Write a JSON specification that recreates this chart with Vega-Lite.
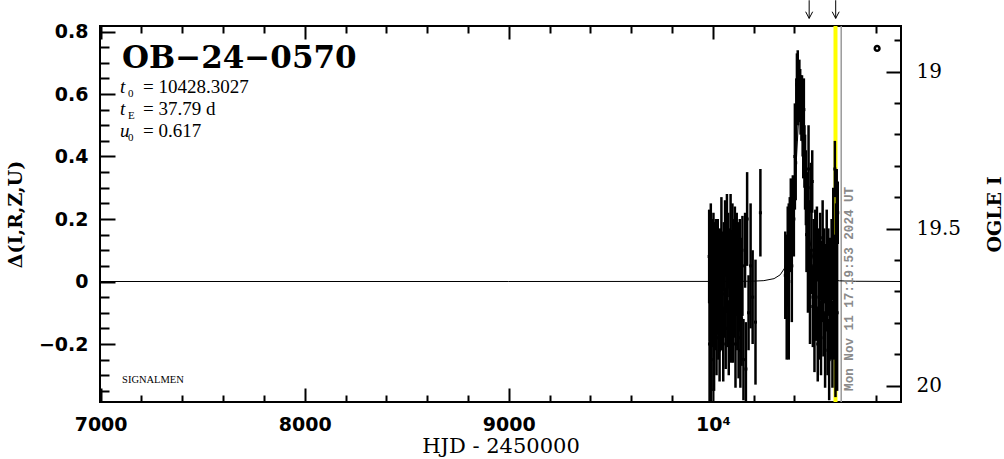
{
  "$schema": "https://vega.github.io/schema/vega-lite/v6.json",
  "width": 801,
  "height": 376,
  "autosize": {"type": "none"},
  "padding": {"left": 100, "top": 26, "right": 103, "bottom": 57},
  "background": "white",
  "config": {
    "view": {"stroke": "black", "strokeWidth": 2},
    "axis": {"grid": false, "domain": false, "labelFlush": false, "labelOverlap": false}
  },
  "resolve": {"scale": {"y": "independent"}, "axis": {"x": "independent", "y": "independent"}},
  "datasets": {
    "model": [
      {"t": 6997, "d": 0}, {"t": 9000, "d": 0}, {"t": 10100, "d": 0.0003}, {"t": 10200, "d": 0.0012},
      {"t": 10250, "d": 0.0028}, {"t": 10300, "d": 0.0091}, {"t": 10330, "d": 0.0214}, {"t": 10350, "d": 0.0412},
      {"t": 10370, "d": 0.0858}, {"t": 10380, "d": 0.1258}, {"t": 10390, "d": 0.188}, {"t": 10400, "d": 0.2773},
      {"t": 10410, "d": 0.397}, {"t": 10420, "d": 0.517}, {"t": 10428.3, "d": 0.56}, {"t": 10437, "d": 0.513},
      {"t": 10445, "d": 0.418}, {"t": 10455, "d": 0.2948}, {"t": 10465, "d": 0.1995}, {"t": 10475, "d": 0.134},
      {"t": 10490, "d": 0.0749}, {"t": 10520, "d": 0.0263}, {"t": 10560, "d": 0.0082}, {"t": 10620, "d": 0.0022},
      {"t": 10700, "d": 0.0007}, {"t": 10922, "d": 0}
    ],
    "obs": [
      {"t": 9982, "d": 0.08, "e": 0.15}, {"t": 9984, "d": -0.2, "e": 0.22}, {"t": 9986, "d": -0.05, "e": 0.14},
      {"t": 9990, "d": 0.12, "e": 0.13}, {"t": 9992, "d": -0.25, "e": 0.2}, {"t": 9994, "d": -0.15, "e": 0.2},
      {"t": 9997, "d": 0.02, "e": 0.18}, {"t": 10000, "d": -0.08, "e": 0.13}, {"t": 10003, "d": 0.1, "e": 0.12},
      {"t": 10006, "d": -0.2, "e": 0.15}, {"t": 10009, "d": 0.05, "e": 0.14}, {"t": 10012, "d": -0.1, "e": 0.12},
      {"t": 10015, "d": 0.07, "e": 0.13}, {"t": 10018, "d": -0.18, "e": 0.12}, {"t": 10021, "d": -0.02, "e": 0.15},
      {"t": 10024, "d": 0.1, "e": 0.1}, {"t": 10027, "d": -0.12, "e": 0.13}, {"t": 10030, "d": 0.0, "e": 0.14},
      {"t": 10033, "d": -0.22, "e": 0.1}, {"t": 10036, "d": 0.05, "e": 0.12}, {"t": 10039, "d": -0.06, "e": 0.16},
      {"t": 10042, "d": 0.15, "e": 0.12}, {"t": 10045, "d": -0.1, "e": 0.12}, {"t": 10048, "d": 0.03, "e": 0.13},
      {"t": 10051, "d": -0.2, "e": 0.12}, {"t": 10054, "d": 0.08, "e": 0.11}, {"t": 10057, "d": -0.04, "e": 0.14},
      {"t": 10060, "d": 0.14, "e": 0.12}, {"t": 10063, "d": -0.15, "e": 0.13}, {"t": 10066, "d": 0.02, "e": 0.12},
      {"t": 10069, "d": 0.18, "e": 0.1}, {"t": 10072, "d": -0.08, "e": 0.13}, {"t": 10075, "d": 0.1, "e": 0.12},
      {"t": 10078, "d": -0.18, "e": 0.12}, {"t": 10081, "d": 0.06, "e": 0.11}, {"t": 10084, "d": -0.02, "e": 0.13},
      {"t": 10087, "d": 0.16, "e": 0.12}, {"t": 10090, "d": -0.12, "e": 0.14}, {"t": 10093, "d": 0.04, "e": 0.12},
      {"t": 10096, "d": 0.12, "e": 0.13}, {"t": 10099, "d": -0.14, "e": 0.12}, {"t": 10102, "d": 0.08, "e": 0.12},
      {"t": 10105, "d": -0.05, "e": 0.13}, {"t": 10108, "d": 0.13, "e": 0.11}, {"t": 10111, "d": -0.2, "e": 0.14},
      {"t": 10114, "d": 0.02, "e": 0.13}, {"t": 10117, "d": 0.1, "e": 0.12}, {"t": 10120, "d": -0.1, "e": 0.12},
      {"t": 10123, "d": 0.05, "e": 0.14}, {"t": 10126, "d": -0.18, "e": 0.13}, {"t": 10129, "d": -0.02, "e": 0.14},
      {"t": 10132, "d": 0.08, "e": 0.12}, {"t": 10135, "d": -0.22, "e": 0.12}, {"t": 10138, "d": 0.0, "e": 0.14},
      {"t": 10141, "d": -0.12, "e": 0.15}, {"t": 10145, "d": 0.05, "e": 0.16}, {"t": 10150, "d": -0.25, "e": 0.13},
      {"t": 10158, "d": 0.1, "e": 0.12}, {"t": 10162, "d": -0.28, "e": 0.15}, {"t": 10168, "d": 0.2, "e": 0.15},
      {"t": 10175, "d": -0.1, "e": 0.12}, {"t": 10185, "d": 0.05, "e": 0.2}, {"t": 10195, "d": -0.05, "e": 0.15},
      {"t": 10209, "d": -0.13, "e": 0.2}, {"t": 10233, "d": 0.22, "e": 0.14},
      {"t": 10355, "d": 0.02, "e": 0.14}, {"t": 10362, "d": -0.05, "e": 0.2}, {"t": 10367, "d": 0.08, "e": 0.16},
      {"t": 10372, "d": 0.0, "e": 0.25}, {"t": 10377, "d": 0.15, "e": 0.12}, {"t": 10382, "d": 0.26, "e": 0.07},
      {"t": 10387, "d": 0.05, "e": 0.18}, {"t": 10392, "d": 0.28, "e": 0.06}, {"t": 10397, "d": 0.2, "e": 0.12},
      {"t": 10402, "d": 0.4, "e": 0.17}, {"t": 10406, "d": 0.38, "e": 0.12},
      {"t": 10409, "d": 0.55, "e": 0.1}, {"t": 10412, "d": 0.63, "e": 0.1}, {"t": 10414, "d": 0.6, "e": 0.06},
      {"t": 10416, "d": 0.68, "e": 0.06}, {"t": 10418, "d": 0.57, "e": 0.07}, {"t": 10420, "d": 0.64, "e": 0.05},
      {"t": 10422, "d": 0.6, "e": 0.06}, {"t": 10424, "d": 0.66, "e": 0.05}, {"t": 10426, "d": 0.58, "e": 0.07},
      {"t": 10428, "d": 0.62, "e": 0.06}, {"t": 10430, "d": 0.55, "e": 0.08}, {"t": 10432, "d": 0.6, "e": 0.06},
      {"t": 10434, "d": 0.52, "e": 0.07}, {"t": 10437, "d": 0.58, "e": 0.08}, {"t": 10440, "d": 0.5, "e": 0.1},
      {"t": 10443, "d": 0.45, "e": 0.12}, {"t": 10446, "d": 0.55, "e": 0.1}, {"t": 10449, "d": 0.4, "e": 0.1},
      {"t": 10452, "d": 0.35, "e": 0.12},
      {"t": 10456, "d": 0.3, "e": 0.12}, {"t": 10459, "d": 0.15, "e": 0.12}, {"t": 10462, "d": 0.25, "e": 0.1},
      {"t": 10466, "d": 0.05, "e": 0.15}, {"t": 10469, "d": 0.36, "e": 0.14}, {"t": 10472, "d": 0.12, "e": 0.14},
      {"t": 10476, "d": -0.05, "e": 0.15}, {"t": 10480, "d": 0.3, "e": 0.08}, {"t": 10483, "d": 0.1, "e": 0.14},
      {"t": 10487, "d": 0.32, "e": 0.1}, {"t": 10490, "d": -0.08, "e": 0.13}, {"t": 10494, "d": 0.05, "e": 0.15},
      {"t": 10498, "d": -0.15, "e": 0.14}, {"t": 10502, "d": 0.1, "e": 0.13}, {"t": 10506, "d": -0.05, "e": 0.14},
      {"t": 10510, "d": 0.12, "e": 0.12}, {"t": 10514, "d": -0.2, "e": 0.12}, {"t": 10518, "d": 0.02, "e": 0.15},
      {"t": 10522, "d": -0.12, "e": 0.13}, {"t": 10526, "d": 0.08, "e": 0.14}, {"t": 10530, "d": -0.18, "e": 0.12},
      {"t": 10534, "d": 0.0, "e": 0.13}, {"t": 10538, "d": 0.14, "e": 0.12}, {"t": 10542, "d": -0.1, "e": 0.14},
      {"t": 10546, "d": 0.05, "e": 0.12}, {"t": 10550, "d": -0.22, "e": 0.12}, {"t": 10554, "d": -0.02, "e": 0.14},
      {"t": 10558, "d": 0.1, "e": 0.13}, {"t": 10562, "d": -0.15, "e": 0.15}, {"t": 10566, "d": 0.03, "e": 0.14},
      {"t": 10570, "d": -0.25, "e": 0.13}, {"t": 10574, "d": 0.0, "e": 0.14}, {"t": 10578, "d": -0.1, "e": 0.15},
      {"t": 10582, "d": 0.08, "e": 0.12}, {"t": 10586, "d": -0.2, "e": 0.14}, {"t": 10590, "d": 0.12, "e": 0.18},
      {"t": 10594, "d": -0.05, "e": 0.2}, {"t": 10598, "d": 0.36, "e": 0.09}, {"t": 10601, "d": -0.15, "e": 0.22},
      {"t": 10604, "d": 0.05, "e": 0.2}, {"t": 10607, "d": 0.28, "e": 0.08}, {"t": 10609, "d": -0.1, "e": 0.25},
      {"t": 10612, "d": 0.22, "e": 0.1}
    ],
    "vyellow": [{"t": 10601}],
    "vgrey": [{"t": 10629}],
    "arrows": [{"t": 10472, "top": 0.9, "tip": 0.842}, {"t": 10602, "top": 0.9, "tip": 0.842}],
    "marker": [{"t": 10805, "d": 0.746}],
    "title": [{"t": 7105, "d": 0.683, "txt": "OB−24−0570"}],
    "params": [
      {"t": 7095, "d": 0.603, "sym": "t", "sub": "0", "rest": "= 10428.3027"},
      {"t": 7095, "d": 0.533, "sym": "t", "sub": "E", "rest": "= 37.79 d"},
      {"t": 7095, "d": 0.462, "sym": "u", "sub": "0", "rest": "= 0.617"}
    ],
    "sig": [{"t": 7105, "d": -0.325, "txt": "SIGNALMEN"}],
    "stamp": [{"t": 10669, "d": -0.35, "txt": "Mon Nov 11 17:19:53 2024 UT"}],
    "ax": [{"t": 8000, "d": 0, "m": 19.5}]
  },
  "layer": [
    {
      "data": {"name": "vyellow"},
      "mark": {"type": "rule", "color": "#ffff00", "strokeWidth": 4},
      "encoding": {"x": {"field": "t", "type": "quantitative", "scale": {"domain": [6997, 10922], "nice": false, "zero": false}, "axis": null}}
    },
    {
      "data": {"name": "vgrey"},
      "mark": {"type": "rule", "color": "#9a9a9a", "strokeWidth": 1.5},
      "encoding": {"x": {"field": "t", "type": "quantitative", "scale": {"domain": [6997, 10922], "nice": false, "zero": false}, "axis": null}}
    },
    {
      "data": {"name": "model"},
      "mark": {"type": "line", "color": "black", "strokeWidth": 1, "clip": true},
      "encoding": {
        "x": {"field": "t", "type": "quantitative", "scale": {"domain": [6997, 10922], "nice": false, "zero": false},
          "axis": {"orient": "bottom", "values": [7000, 8000, 9000, 10000], "ticks": false, "domain": false, "grid": false,
            "labelExpr": "datum.value == 10000 ? '10⁴' : format(datum.value, 'd')",
            "labelFont": "DejaVu Sans", "labelFontWeight": "bold", "labelFontSize": 19, "labelColor": "black", "labelPadding": 13,
            "title": "HJD - 2450000", "titleFont": "DejaVu Serif", "titleFontSize": 21, "titleFontWeight": "normal", "titleColor": "black", "titlePadding": 1}},
        "y": {"field": "d", "type": "quantitative", "scale": {"domain": [-0.3856, 0.8176], "nice": false, "zero": false},
          "axis": {"orient": "left", "values": [-0.2, 0, 0.2, 0.4, 0.6, 0.8], "ticks": false, "domain": false, "grid": false, "format": "~g",
            "labelFont": "DejaVu Sans", "labelFontWeight": "bold", "labelFontSize": 19, "labelColor": "black", "labelPadding": 12,
            "title": "Δ(I,R,Z,U)", "titleFont": "DejaVu Serif", "titleFontSize": 19, "titleFontWeight": "bold", "titleColor": "black", "titlePadding": 13}}
      }
    },
    {
      "data": {"name": "obs"},
      "mark": {"type": "errorbar", "color": "black", "thickness": 2.5, "clip": true},
      "encoding": {
        "x": {"field": "t", "type": "quantitative", "scale": {"domain": [6997, 10922], "nice": false, "zero": false}, "axis": null},
        "y": {"field": "d", "type": "quantitative", "scale": {"domain": [-0.3856, 0.8176], "nice": false, "zero": false}, "axis": null},
        "yError": {"field": "e"}
      }
    },
    {
      "data": {"name": "obs"},
      "mark": {"type": "square", "color": "black", "filled": true, "size": 9, "opacity": 1, "clip": true},
      "encoding": {
        "x": {"field": "t", "type": "quantitative", "scale": {"domain": [6997, 10922], "nice": false, "zero": false}, "axis": null},
        "y": {"field": "d", "type": "quantitative", "scale": {"domain": [-0.3856, 0.8176], "nice": false, "zero": false}, "axis": null}
      }
    },
    {
      "data": {"name": "arrows"},
      "mark": {"type": "rule", "color": "black", "strokeWidth": 1, "clip": false},
      "encoding": {
        "x": {"field": "t", "type": "quantitative", "scale": {"domain": [6997, 10922], "nice": false, "zero": false}, "axis": null},
        "y": {"field": "top", "type": "quantitative", "scale": {"domain": [-0.3856, 0.8176], "nice": false, "zero": false}, "axis": null},
        "y2": {"field": "tip"}
      }
    },
    {
      "data": {"name": "arrows"},
      "mark": {"type": "point", "shape": "M-1,-1.9L0,0L1,-1.9", "filled": false, "stroke": "black", "strokeWidth": 1, "size": 49, "opacity": 1, "clip": false},
      "encoding": {
        "x": {"field": "t", "type": "quantitative", "scale": {"domain": [6997, 10922], "nice": false, "zero": false}, "axis": null},
        "y": {"field": "tip", "type": "quantitative", "scale": {"domain": [-0.3856, 0.8176], "nice": false, "zero": false}, "axis": null}
      }
    },
    {
      "data": {"name": "marker"},
      "mark": {"type": "point", "shape": "circle", "filled": false, "stroke": "black", "strokeWidth": 2.5, "size": 22, "opacity": 1},
      "encoding": {
        "x": {"field": "t", "type": "quantitative", "scale": {"domain": [6997, 10922], "nice": false, "zero": false}, "axis": null},
        "y": {"field": "d", "type": "quantitative", "scale": {"domain": [-0.3856, 0.8176], "nice": false, "zero": false}, "axis": null}
      }
    },
    {
      "data": {"name": "title"},
      "mark": {"type": "text", "align": "left", "baseline": "alphabetic", "font": "DejaVu Serif", "fontSize": 31, "fontWeight": "bold", "color": "black"},
      "encoding": {
        "x": {"field": "t", "type": "quantitative", "scale": {"domain": [6997, 10922], "nice": false, "zero": false}, "axis": null},
        "y": {"field": "d", "type": "quantitative", "scale": {"domain": [-0.3856, 0.8176], "nice": false, "zero": false}, "axis": null},
        "text": {"field": "txt"}
      }
    },
    {
      "data": {"name": "params"},
      "mark": {"type": "text", "align": "left", "baseline": "alphabetic", "font": "Liberation Serif", "fontSize": 19, "fontStyle": "italic", "color": "black"},
      "encoding": {
        "x": {"field": "t", "type": "quantitative", "scale": {"domain": [6997, 10922], "nice": false, "zero": false}, "axis": null},
        "y": {"field": "d", "type": "quantitative", "scale": {"domain": [-0.3856, 0.8176], "nice": false, "zero": false}, "axis": null},
        "text": {"field": "sym"}
      }
    },
    {
      "data": {"name": "params"},
      "mark": {"type": "text", "align": "left", "baseline": "alphabetic", "font": "Liberation Serif", "fontSize": 11, "dx": 8, "dy": 4, "color": "black"},
      "encoding": {
        "x": {"field": "t", "type": "quantitative", "scale": {"domain": [6997, 10922], "nice": false, "zero": false}, "axis": null},
        "y": {"field": "d", "type": "quantitative", "scale": {"domain": [-0.3856, 0.8176], "nice": false, "zero": false}, "axis": null},
        "text": {"field": "sub"}
      }
    },
    {
      "data": {"name": "params"},
      "mark": {"type": "text", "align": "left", "baseline": "alphabetic", "font": "Liberation Serif", "fontSize": 19, "dx": 23, "color": "black"},
      "encoding": {
        "x": {"field": "t", "type": "quantitative", "scale": {"domain": [6997, 10922], "nice": false, "zero": false}, "axis": null},
        "y": {"field": "d", "type": "quantitative", "scale": {"domain": [-0.3856, 0.8176], "nice": false, "zero": false}, "axis": null},
        "text": {"field": "rest"}
      }
    },
    {
      "data": {"name": "sig"},
      "mark": {"type": "text", "align": "left", "baseline": "alphabetic", "font": "Liberation Serif", "fontSize": 10.5, "color": "black"},
      "encoding": {
        "x": {"field": "t", "type": "quantitative", "scale": {"domain": [6997, 10922], "nice": false, "zero": false}, "axis": null},
        "y": {"field": "d", "type": "quantitative", "scale": {"domain": [-0.3856, 0.8176], "nice": false, "zero": false}, "axis": null},
        "text": {"field": "txt"}
      }
    },
    {
      "data": {"name": "stamp"},
      "mark": {"type": "text", "align": "left", "baseline": "middle", "angle": 270, "font": "Liberation Mono", "fontSize": 12.6, "fontWeight": "bold", "color": "#8a8a8a"},
      "encoding": {
        "x": {"field": "t", "type": "quantitative", "scale": {"domain": [6997, 10922], "nice": false, "zero": false}, "axis": null},
        "y": {"field": "d", "type": "quantitative", "scale": {"domain": [-0.3856, 0.8176], "nice": false, "zero": false}, "axis": null},
        "text": {"field": "txt"}
      }
    },
    {
      "data": {"name": "ax"},
      "mark": {"type": "point", "opacity": 0},
      "encoding": {
        "x": {"field": "t", "type": "quantitative", "scale": {"domain": [6997, 10922], "nice": false, "zero": false},
          "axis": {"orient": "bottom", "values": [7000, 8000, 9000, 10000], "labels": false, "ticks": true, "tickSize": -14, "tickWidth": 2, "tickColor": "black", "domain": false, "grid": false, "title": null}},
        "y": {"field": "d", "type": "quantitative", "scale": {"domain": [-0.3856, 0.8176], "nice": false, "zero": false},
          "axis": {"orient": "left", "values": [-0.2, 0, 0.2, 0.4, 0.6, 0.8], "labels": false, "ticks": true, "tickSize": -15, "tickWidth": 2, "tickColor": "black", "domain": false, "grid": false, "title": null}}
      }
    },
    {
      "data": {"name": "ax"},
      "mark": {"type": "point", "opacity": 0},
      "encoding": {
        "x": {"field": "t", "type": "quantitative", "scale": {"domain": [6997, 10922], "nice": false, "zero": false},
          "axis": {"orient": "bottom", "values": [7200, 7400, 7600, 7800, 8200, 8400, 8600, 8800, 9200, 9400, 9600, 9800, 10200, 10400, 10600, 10800], "labels": false, "ticks": true, "tickSize": -7, "tickWidth": 2, "tickColor": "black", "domain": false, "grid": false, "title": null}},
        "y": {"field": "d", "type": "quantitative", "scale": {"domain": [-0.3856, 0.8176], "nice": false, "zero": false},
          "axis": {"orient": "left", "values": [-0.35, -0.3, -0.25, -0.15, -0.1, -0.05, 0.05, 0.1, 0.15, 0.25, 0.3, 0.35, 0.45, 0.5, 0.55, 0.65, 0.7, 0.75], "labels": false, "ticks": true, "tickSize": -9, "tickWidth": 2, "tickColor": "black", "domain": false, "grid": false, "title": null}}
      }
    },
    {
      "data": {"name": "ax"},
      "mark": {"type": "point", "opacity": 0},
      "encoding": {
        "x": {"field": "t", "type": "quantitative", "scale": {"domain": [6997, 10922], "nice": false, "zero": false},
          "axis": {"orient": "top", "values": [7000, 8000, 9000, 10000], "labels": false, "ticks": true, "tickSize": -13, "tickWidth": 2, "tickColor": "black", "domain": false, "grid": false, "title": null}},
        "y": {"field": "m", "type": "quantitative", "scale": {"domain": [18.8545, 20.0519], "reverse": true, "nice": false, "zero": false},
          "axis": {"orient": "right", "values": [19, 19.5, 20], "labels": false, "ticks": true, "tickSize": -15, "tickWidth": 2, "tickColor": "black", "domain": false, "grid": false, "title": null}}
      }
    },
    {
      "data": {"name": "ax"},
      "mark": {"type": "point", "opacity": 0},
      "encoding": {
        "x": {"field": "t", "type": "quantitative", "scale": {"domain": [6997, 10922], "nice": false, "zero": false},
          "axis": {"orient": "top", "values": [7200, 7400, 7600, 7800, 8200, 8400, 8600, 8800, 9200, 9400, 9600, 9800, 10200, 10400, 10600, 10800], "labels": false, "ticks": true, "tickSize": -7, "tickWidth": 2, "tickColor": "black", "domain": false, "grid": false, "title": null}},
        "y": {"field": "m", "type": "quantitative", "scale": {"domain": [18.8545, 20.0519], "reverse": true, "nice": false, "zero": false},
          "axis": {"orient": "right", "values": [18.9, 19.1, 19.2, 19.3, 19.4, 19.6, 19.7, 19.8, 19.9], "labels": false, "ticks": true, "tickSize": -7, "tickWidth": 2, "tickColor": "black", "domain": false, "grid": false, "title": null}}
      }
    },
    {
      "data": {"name": "ax"},
      "mark": {"type": "point", "opacity": 0},
      "encoding": {
        "x": {"field": "t", "type": "quantitative", "scale": {"domain": [6997, 10922], "nice": false, "zero": false}, "axis": null},
        "y": {"field": "m", "type": "quantitative", "scale": {"domain": [18.8545, 20.0519], "reverse": true, "nice": false, "zero": false},
          "axis": {"orient": "right", "values": [19, 19.5, 20], "ticks": false, "domain": false, "grid": false, "format": "~g",
            "labelFont": "DejaVu Serif", "labelFontSize": 20, "labelColor": "black", "labelPadding": 15,
            "title": "OGLE I", "titleFont": "DejaVu Serif", "titleFontSize": 19, "titleFontWeight": "bold", "titleColor": "black", "titleAngle": 270, "titlePadding": 44}}
      }
    }
  ]
}
